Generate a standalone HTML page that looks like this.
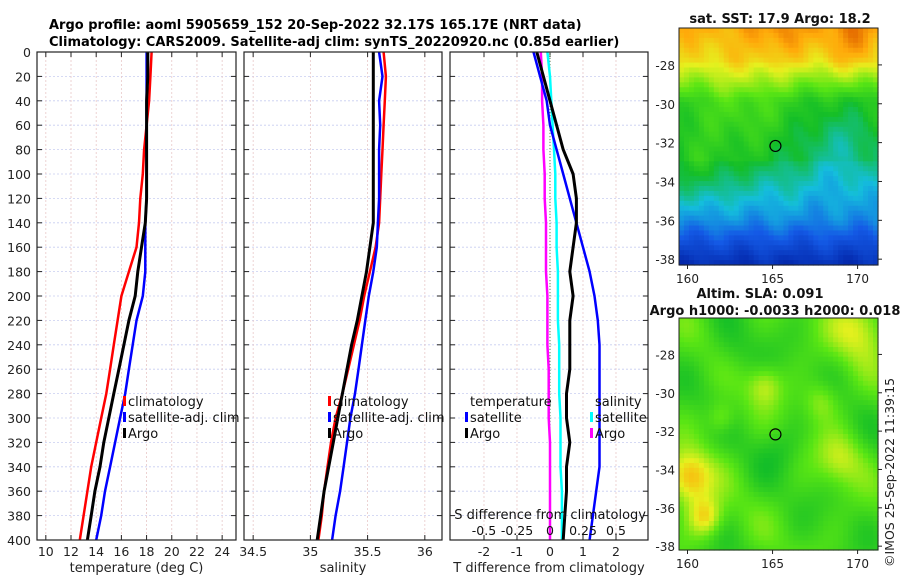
<!DOCTYPE html>
<html><head><meta charset="utf-8"><style>
body{margin:0;background:#fff;width:900px;height:580px;overflow:hidden;font-family:"Liberation Sans","DejaVu Sans",sans-serif}
svg text{font-family:"DejaVu Sans","Liberation Sans",sans-serif}
</style></head><body>
<svg id="c" width="900" height="580" viewBox="0 0 900 580" xmlns="http://www.w3.org/2000/svg">
<text x="49" y="29" font-size="13" font-weight="bold">Argo profile: aoml 5905659_152 20-Sep-2022 32.17S 165.17E (NRT data)</text>
<text x="49" y="46" font-size="13" font-weight="bold">Climatology: CARS2009. Satellite-adj clim: synTS_20220920.nc (0.85d earlier)</text>
<g id="g"></g>
</svg>
<script>
// ---- data ----
const depthsT = [0,20,40,60,80,100,120,140,160,180,200,220,240,260,280,300,320,340,360,380,400];
const tempClim = [18.4,18.3,18.2,18.0,17.8,17.7,17.5,17.4,17.2,16.6,16.0,15.7,15.4,15.1,14.8,14.4,14.0,13.6,13.3,13.0,12.7];
const tempSat  = [18.0,18.0,18.0,18.0,18.0,18.0,18.0,17.9,17.9,17.9,17.7,17.2,16.9,16.6,16.3,15.9,15.5,15.1,14.7,14.4,14.0];
const tempArgo = [18.1,18.1,18.0,18.0,18.0,18.0,18.0,17.9,17.6,17.3,17.1,16.6,16.2,15.8,15.4,15.0,14.6,14.3,13.9,13.6,13.3];
const salClim = [35.64,35.66,35.65,35.64,35.63,35.62,35.61,35.60,35.57,35.52,35.47,35.43,35.38,35.33,35.28,35.22,35.18,35.15,35.12,35.10,35.07];
const salSat  = [35.60,35.63,35.60,35.61,35.60,35.60,35.60,35.59,35.58,35.55,35.51,35.48,35.45,35.42,35.39,35.35,35.32,35.29,35.26,35.22,35.19];
const salArgo = [35.55,35.55,35.55,35.55,35.55,35.55,35.55,35.55,35.52,35.49,35.45,35.41,35.36,35.32,35.28,35.24,35.20,35.16,35.12,35.09,35.06];
const tDiffSat  = [-0.5,-0.3,-0.1,0.0,0.2,0.4,0.6,0.8,1.0,1.2,1.35,1.45,1.5,1.5,1.5,1.5,1.5,1.5,1.4,1.3,1.2];
const tDiffArgo = [-0.4,-0.2,0.0,0.2,0.4,0.7,0.8,0.8,0.7,0.6,0.7,0.6,0.6,0.6,0.5,0.5,0.6,0.5,0.5,0.45,0.4];
const sDiffSat  = [-0.02,0.0,0.01,0.02,0.03,0.04,0.04,0.05,0.05,0.06,0.06,0.06,0.07,0.07,0.07,0.08,0.08,0.08,0.09,0.09,0.09];
const sDiffArgo = [-0.07,-0.06,-0.06,-0.05,-0.05,-0.04,-0.04,-0.03,-0.03,-0.03,-0.02,-0.02,-0.02,-0.01,-0.01,-0.01,0.0,0.0,0.0,0.0,0.0];
const depthTicks = [0,20,40,60,80,100,120,140,160,180,200,220,240,260,280,300,320,340,360,380,400];
const tTicks = [10,12,14,16,18,20,22,24];
const sTicks = [34.5,35,35.5,36];
const dTicks = [-2,-1,0,1,2];
const sdTicks = [-0.5,-0.25,0,0.25,0.5];
const sdLabels = ["-0.5","-0.25","0","0.25","0.5"];

const NS="http://www.w3.org/2000/svg";
const g=document.getElementById('g');
function mk(t,a,p){const e=document.createElementNS(NS,t);for(const k in a)e.setAttribute(k,a[k]);(p||g).appendChild(e);return e;}
const Y0=52,Y1=540;
const y=d=>Y0+(d/400)*(Y1-Y0);
function lin(d0,d1,p0,p1){return v=>p0+(v-d0)/(d1-d0)*(p1-p0);}
const panels=[
 {x0:37,x1:236,sx:lin(9.3,25.1,37,236),ticks:tTicks,lab:tTicks.map(String),xl:"temperature (deg C)",name:"temperature"},
 {x0:244,x1:442,sx:lin(34.42,36.15,244,442),ticks:sTicks,lab:["34.5","35","35.5","36"],xl:"salinity",name:"salinity"},
 {x0:450,x1:648,sx:lin(-3.03,2.97,450,648),ticks:dTicks,lab:dTicks.map(String),xl:"T difference from climatology",name:"difference"}
];
panels.forEach((P,i)=>{
 const pg=mk('g',{});
 
 
 depthTicks.forEach(d=>{
  mk('line',{x1:P.x0,x2:P.x1,y1:y(d),y2:y(d),stroke:'#c8cdf0','stroke-width':0.8,'stroke-dasharray':'2,2'},pg);
  mk('line',{x1:P.x0,x2:P.x0+5,y1:y(d),y2:y(d),stroke:'#222'},pg);
  mk('line',{x1:P.x1,x2:P.x1-5,y1:y(d),y2:y(d),stroke:'#222'},pg);
  if(i==0){const t=mk('text',{x:31,y:y(d)+5,'font-size':12.5,'text-anchor':'end',fill:'#222'},pg);t.textContent=d;}
 });
 P.ticks.forEach((v,k)=>{
  const xx=P.sx(v);
  mk('line',{x1:xx,x2:xx,y1:Y0,y2:Y1,stroke:'#e8c8c8','stroke-width':0.8,'stroke-dasharray':'2,2'},pg);
  mk('line',{x1:xx,x2:xx,y1:Y1,y2:Y1-5,stroke:'#222'},pg);
  mk('line',{x1:xx,x2:xx,y1:Y0,y2:Y0+5,stroke:'#222'},pg);
  const t=mk('text',{x:xx,y:556,'font-size':12.5,'text-anchor':'middle',fill:'#222'},pg);t.textContent=P.lab[k];
  
 });
 const xl=mk('text',{x:(P.x0+P.x1)/2,y:572,'font-size':13,'text-anchor':'middle',fill:'#222'},pg);xl.textContent=P.xl;
 
 P.g=pg;
});
function line(P,vals,col,w,name){
 const pts=vals.map((v,k)=>P.sx(v).toFixed(1)+','+y(depthsT[k]).toFixed(1)).join(' ');
 const e=mk('polyline',{points:pts,fill:'none',stroke:col,'stroke-width':w,'stroke-linejoin':'round'},P.g);
 
 
}
line(panels[0],tempClim,'#f00',2.5,'temp-climatology-line');
line(panels[0],tempSat,'#00f',2.5,'temp-satellite-line');
line(panels[0],tempArgo,'#000',3,'temp-argo-line');
line(panels[1],salClim,'#f00',2.5,'sal-climatology-line');
line(panels[1],salSat,'#00f',2.5,'sal-satellite-line');
line(panels[1],salArgo,'#000',3,'sal-argo-line');
const P3=panels[2];
mk('line',{x1:P3.sx(0),x2:P3.sx(0),y1:Y0,y2:Y1,stroke:'#585',"stroke-dasharray":"1,2"},P3.g);
const sdP={sx:v=>P3.sx(v*4),g:P3.g};
line(sdP,sDiffArgo,'#f0f',2.5,'sdiff-argo-line');
line(sdP,sDiffSat,'#0ff',2.5,'sdiff-satellite-line');
line(P3,tDiffSat,'#00f',2.5,'tdiff-satellite-line');
line(P3,tDiffArgo,'#000',3,'tdiff-argo-line');
const sdt=mk('text',{x:P3.x1-2,y:519,'font-size':13,'text-anchor':'end',fill:'#111'},P3.g);sdt.textContent="S difference from climatology";

sdTicks.forEach((v,k)=>{const t=mk('text',{x:sdP.sx(v),y:535,'font-size':12.5,'text-anchor':'middle',fill:'#111'},P3.g);t.textContent=sdLabels[k];
 });
panels.forEach(P=>mk('rect',{x:P.x0,y:Y0,width:P.x1-P.x0,height:Y1-Y0,fill:'none',stroke:'#222','stroke-width':1.2},P.g));
function leg(x,yy,col,txt,pg){
 const lg=mk('g',{},pg);
 if(col)mk('rect',{x:x-5,y:yy-10,width:3,height:10,fill:col},lg);
 const t=mk('text',{x:x,y:yy,'font-size':13,fill:'#111'},lg);t.textContent=txt;
}
[[0,128],[1,333]].forEach(([i,x])=>{leg(x,406,'#f00','climatology',panels[i].g);leg(x,422,'#00f','satellite-adj. clim',panels[i].g);leg(x,438,'#000','Argo',panels[i].g);});
leg(470,406,null,'temperature',P3.g);leg(470,422,'#00f','satellite',P3.g);leg(470,438,'#000','Argo',P3.g);
leg(595,406,null,'salinity',P3.g);leg(595,422,'#0ff','satellite',P3.g);leg(595,438,'#f0f','Argo',P3.g);

// ---- maps ----
const mapLat=[-28,-30,-32,-34,-36,-38];
const mapLon=[160,165,170];
function cmap(v){
 const stops=[[0,[0,30,160]],[0.2,[20,90,230]],[0.35,[20,190,220]],[0.5,[20,190,40]],[0.65,[90,230,20]],[0.8,[230,240,30]],[0.92,[255,170,10]],[1,[230,110,0]]];
 for(let i=1;i<stops.length;i++)if(v<=stops[i][0]){const a=stops[i-1],b=stops[i],t=(v-a[0])/(b[0]-a[0]);return 'rgb('+a[1].map((c,k)=>Math.round(c+(b[1][k]-c)*t)).join(',')+')';}
 return 'rgb(230,110,0)';
}
function drawMap(x0,y0,w,h,latTop,latBot,field,name,titles){
 const mg=mk('g',{});
 const n=40,m=48,cw=w/n,ch=h/m;
 for(let i=0;i<n;i++)for(let j=0;j<m;j++){
  mk('rect',{x:(x0+i*cw).toFixed(2),y:(y0+j*ch).toFixed(2),width:(cw+0.6).toFixed(2),height:(ch+0.6).toFixed(2),fill:cmap(field(i/n,j/m))},mg);
 }
 mk('rect',{x:x0,y:y0,width:w,height:h,fill:'none',stroke:'#222'},mg);
 const lx=lin(159.5,171.2,x0,x0+w);
 const ly=lin(latTop,latBot,y0,y0+h);
 mapLat.forEach(l=>{mk('line',{x1:x0+w,x2:x0+w+4,y1:ly(l),y2:ly(l),stroke:'#222'},mg);
  const t=mk('text',{x:x0-4,y:ly(l)+5,'font-size':12,'text-anchor':'end',fill:'#222'},mg);t.textContent=l;});
 mapLon.forEach(l=>{mk('line',{x1:lx(l),x2:lx(l),y1:y0+h,y2:y0+h+4,stroke:'#222'},mg);
  const t=mk('text',{x:lx(l),y:y0+h+18,'font-size':12,'text-anchor':'middle',fill:'#222'},mg);t.textContent=l;});
 const c=mk('circle',{cx:lx(165.17),cy:ly(-32.17),r:5.5,fill:'none',stroke:'#000','stroke-width':1.2},mg);
 
 titles.forEach(([tx,ty,s])=>{const t=mk('text',{x:tx,y:ty,'font-size':13,'font-weight':'bold','text-anchor':'middle',fill:'#111'},mg);t.textContent=s;});
}
const gauss=(u,v,cu,cv,s)=>Math.exp(-((u-cu)*(u-cu)+(v-cv)*(v-cv))/(2*s*s));
drawMap(679,28,199,237,-26.1,-38.3,(u,v)=>{
 let b;
 if(v<0.12) b=0.9-v*0.6;
 else if(v<0.3) b=0.83-(v-0.12)*1.5;
 else if(v<0.55) b=0.56-(v-0.3)*0.25;
 else if(v<0.8) b=0.48-(v-0.55)*0.8;
 else b=0.28-(v-0.8)*1.2;
 b+=0.08*gauss(u,v,0.85,0.05,0.1)+0.06*gauss(u,v,0.5,0.02,0.08);
 b+=0.06*gauss(u,v,0.3,0.3,0.15)-0.1*gauss(u,v,0.8,0.5,0.15)+0.06*gauss(u,v,0.1,0.6,0.1);
 b+=0.02*Math.sin(u*23+v*11)+0.015*Math.cos(u*37-v*29);
 return Math.max(0,Math.min(1,b));
},'sst-map',[[780,23,'sat. SST: 17.9 Argo: 18.2']]);
drawMap(679,318,199,232,-26.1,-38.2,(u,v)=>{
 let b=0.6+0.05*Math.sin(u*17+1)*Math.cos(v*14)+0.04*Math.sin(u*9-v*12+2);
 b+=0.3*gauss(u,v,0.04,0.68,0.08)+0.25*gauss(u,v,0.12,0.85,0.06)+0.2*gauss(u,v,0.9,0.03,0.1)+0.15*gauss(u,v,0.42,0.28,0.06)+0.15*gauss(u,v,0.8,0.6,0.08)+0.13*gauss(u,v,0.2,0.42,0.05)+0.12*gauss(u,v,0.7,0.35,0.06);
 b-=0.06*gauss(u,v,0.5,0.55,0.08)+0.06*gauss(u,v,0.25,0.15,0.08);
 return Math.max(0,Math.min(1,b));
},'sla-map',[[760,298,'Altim. SLA: 0.091'],[775,315,'Argo h1000: -0.0033 h2000: 0.018']]);
const cr=mk('text',{x:0,y:0,'font-size':12.5,fill:'#222',transform:'translate(894,567) rotate(-90)'});
cr.textContent='©IMOS 25-Sep-2022 11:39:15';


</script>
</body></html>
